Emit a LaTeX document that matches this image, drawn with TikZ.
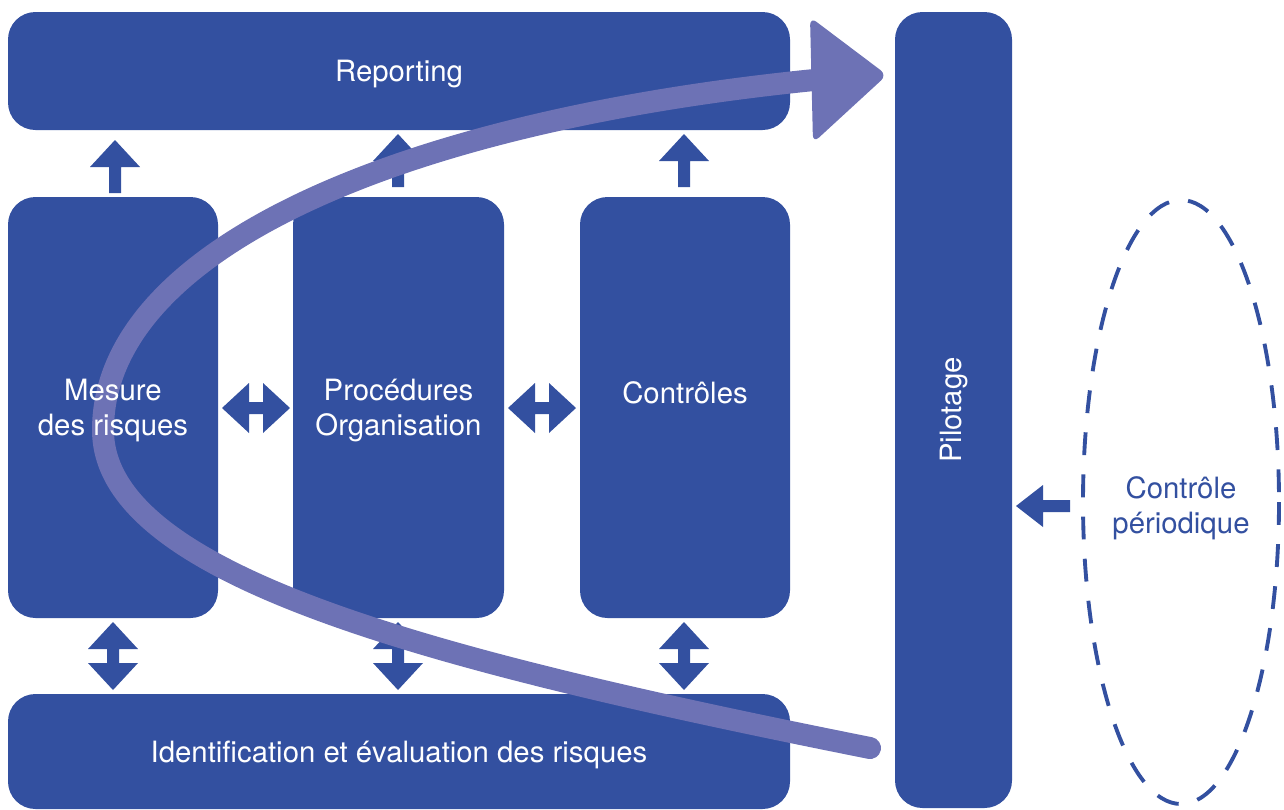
\documentclass[tikz,border=0pt]{standalone}
\usepackage{fontspec}
\setmainfont{TeX Gyre Heros}
\usetikzlibrary{fit}

\definecolor{boxblue}{RGB}{51,80,160}
\definecolor{loopviolet}{RGB}{109,114,181}

\tikzset{
  box/.style={fill=boxblue, rounded corners=0.55cm, inner sep=0pt},
  boxtext/.style={text=white, align=center, inner sep=0pt, font=\fontsize{16.7}{20}\selectfont},
  lower/.style={yshift=-1.7pt},
  uparr/.pic={\fill[boxblue] (-6,0) -- (-6,-26) -- (-25,-26) -- (0,-53) -- (25,-26) -- (6,-26) -- (6,0) -- cycle;},
  dblarr/.pic={\fill[boxblue] (0,-34) -- (25,-7) -- (6,-7) -- (6,7) -- (25,7) -- (0,34)
    -- (-25,7) -- (-6,7) -- (-6,-7) -- (-25,-7) -- cycle;},
}

\begin{document}
\begin{tikzpicture}[x=0.02cm, y=-0.02cm]
        \useasboundingbox (0,0) rectangle (1284,809);
        \clip (0,0) rectangle (1284,809);

        % blocks
        \node[box, fit={(8,12) (790,130)}] (report) {};
        \node[box, fit={(8,197) (218,618)}] (mesure) {};
        \node[box, fit={(293,197) (504,618)}] (proc) {};
        \node[box, fit={(580,197) (790,618)}] (ctrl) {};
        \node[box, fit={(8,694) (790,809)}] (ident) {};
        \node[box, fit={(895,12) (1012,808)}] (pilot) {};

        % block arrows
        \foreach \x/\y in {115/193, 398/187, 684/187}{
          \pic at (\x, \y) {uparr};}
        \foreach \x in {113, 398, 684}{
          \pic at (\x, 656) {dblarr};}
        \foreach \x in {256, 542}{
          \pic[rotate=90] at (\x, 408) {dblarr};}

        % controle periodique
        \draw[boxblue, line width=2.2pt, dash pattern=on 13pt off 11pt] (1181,502) ellipse (98 and 302);
        \node[boxtext, lower, text=boxblue] (periodic) at (1181,505) {Contrôle\\périodique};
        \fill[boxblue] (1070,500) -- (1043,500) -- (1043,485) -- (1016,506) -- (1043,527) -- (1043,512) -- (1070,512) -- cycle;

        % big loop
        \draw[loopviolet, line width=12.5pt, line cap=round] (870,748) .. controls (429,660) and (103,575) .. (103,430)
          .. controls (103,250) and (397,122) .. (814,80);
        \fill[loopviolet, rounded corners=0.16cm] (810,17) -- (887,75) -- (813,143) -- cycle;

        % labels
        \node[boxtext, lower] (reporttxt) at (report) {Reporting};
        \node[boxtext, lower] (mesuretxt) at (mesure) {Mesure\\des risques};
        \node[boxtext, lower] (proctxt) at (proc) {Procédures\\Organisation};
        \node[boxtext, lower] (ctrltxt) at (ctrl) {Contrôles\\~};
        \node[boxtext, lower] (identtxt) at (ident) {Identification et évaluation des risques};
        \node[boxtext, rotate=90] (pilottxt) at (pilot) {Pilotage};
      \end{tikzpicture}
\end{document}
